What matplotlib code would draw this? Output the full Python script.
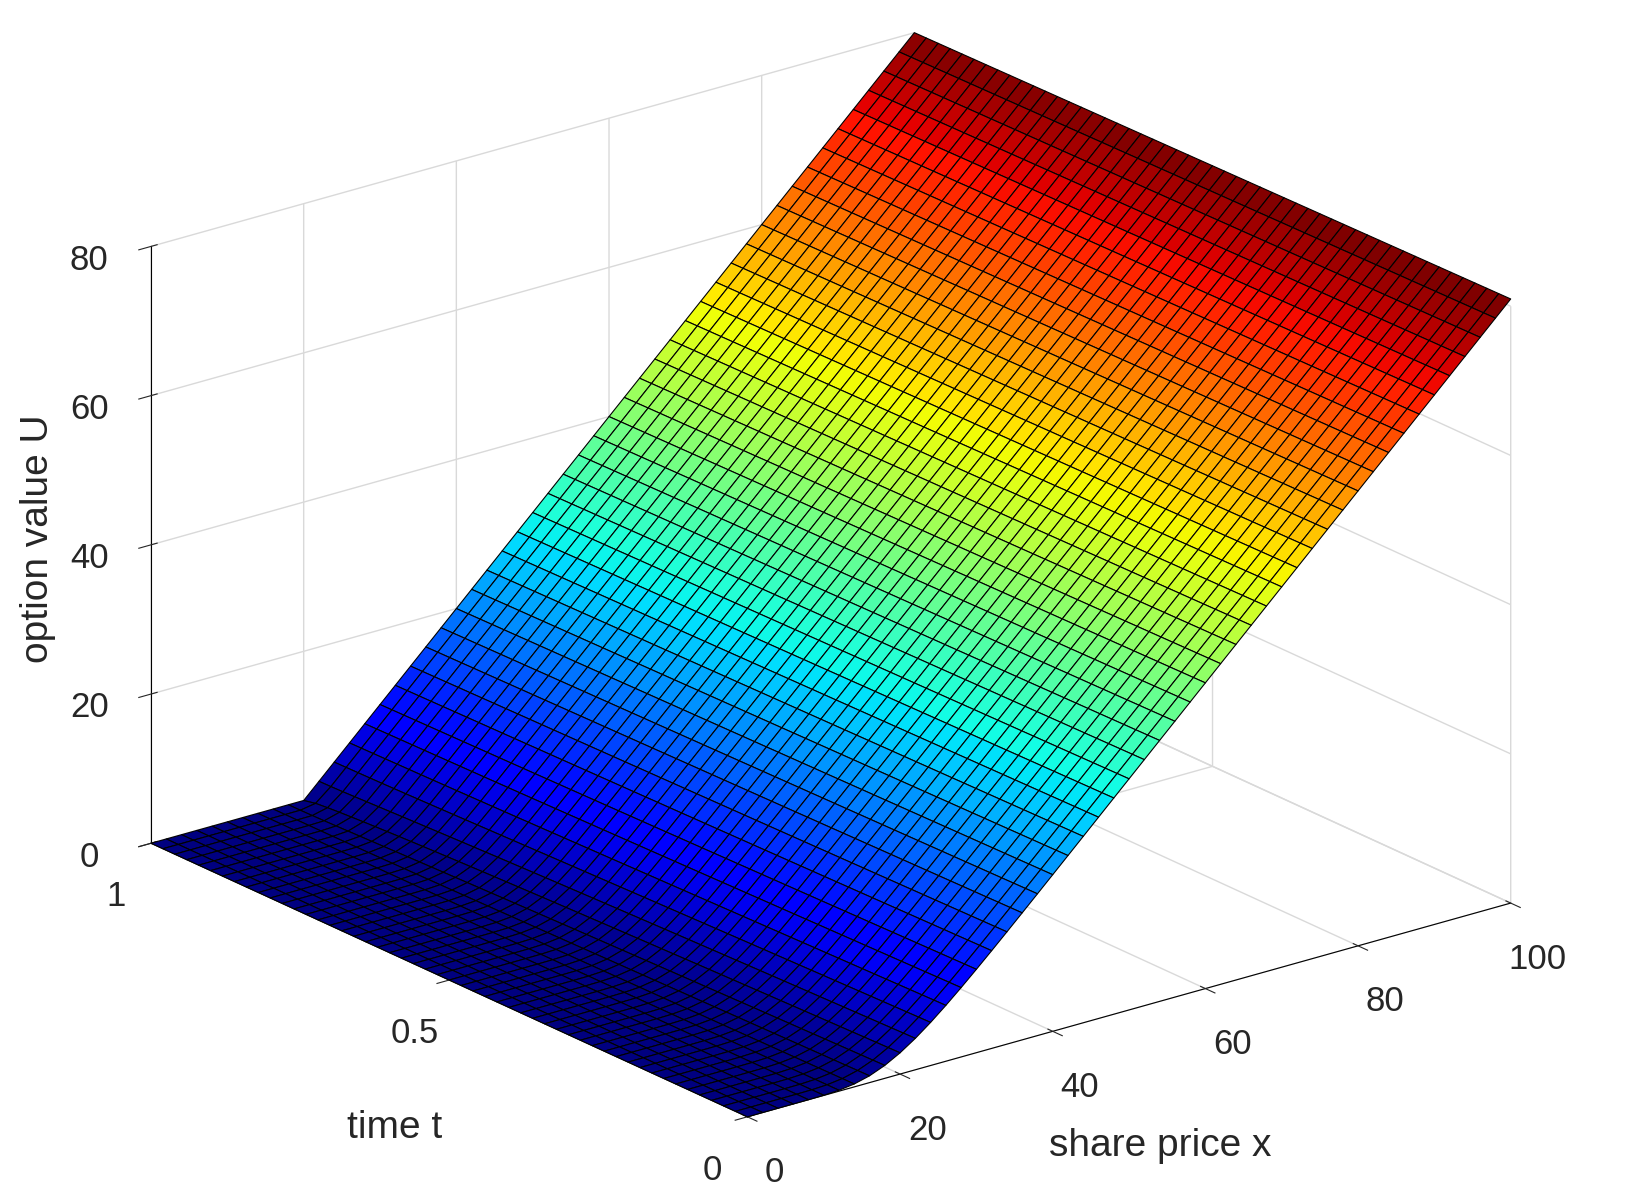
import numpy as np
import matplotlib
matplotlib.use("Agg")
import matplotlib.pyplot as plt
from math import erf

plt.rcParams["font.family"] = ["Liberation Sans", "DejaVu Sans"]

# Model parameters (strike where payoff kinks at t=1)
strike = 20.0
rate = 0.05
sigma = 0.3
expiry = 1.0
x_grid = np.linspace(0, 100, 51)
t_grid = np.linspace(0, 1, 51)
x_ticks = [0, 20, 40, 60, 80, 100]
t_ticks = [0, 0.5, 1]
z_ticks = [0, 20, 40, 60, 80]

verf = np.vectorize(erf)
def ncdf(v):
    return 0.5 * (1 + verf(v / np.sqrt(2)))

X, T = np.meshgrid(x_grid, t_grid)
tau = expiry - T
U = np.maximum(X - strike, 0.0)
m = tau > 1e-9
with np.errstate(divide="ignore", invalid="ignore"):
    xs = np.where(X > 0, X, 1e-12)
    d1 = (np.log(xs / strike) + (rate + 0.5 * sigma**2) * tau) / (sigma * np.sqrt(np.where(m, tau, 1)))
    d2 = d1 - sigma * np.sqrt(tau)
    bs = xs * ncdf(d1) - strike * np.exp(-rate * tau) * ncdf(d2)
U = np.where(m, bs, U)
U = np.nan_to_num(U)

fig = plt.figure(figsize=(16.3, 11.98), dpi=100)
ax = fig.add_axes([0.0, 0.017, 1.0, 0.98], projection="3d")
ax.set_proj_type("ortho")
surf = ax.plot_surface(X, T, U, cmap="jet", edgecolor="black", linewidth=0.8,
                       rstride=1, cstride=1, antialiased=True, shade=False)
surf.set_clip_on(False)
ax.view_init(elev=21, azim=-128)
ax.set_xlim(0, 100); ax.set_ylim(0, 1); ax.set_zlim(0, 80)
ax.set_xticks(x_ticks); ax.set_yticks(t_ticks); ax.set_zticks(z_ticks)
ax.set_yticklabels(["0", "0.5", "1"])
for a in (ax.xaxis, ax.yaxis, ax.zaxis):
    a.set_pane_color((1, 1, 1, 0))
    a._axinfo["grid"]["color"] = (0.85, 0.85, 0.85, 1)
    a._axinfo["grid"]["linewidth"] = 1.0
ax.tick_params(labelsize=25, colors="#262626", pad=12)
ax.set_box_aspect((1, 1, 0.66), zoom=1.25)
fig.text(0.242, 0.05, "time t", fontsize=28, color="#262626", ha="center")
fig.text(0.712, 0.035, "share price x", fontsize=28, color="#262626", ha="center")
fig.text(0.012, 0.55, "option value U", fontsize=28, color="#262626", rotation=90, va="center")
fig.savefig("out.png", dpi=100, facecolor="white")
